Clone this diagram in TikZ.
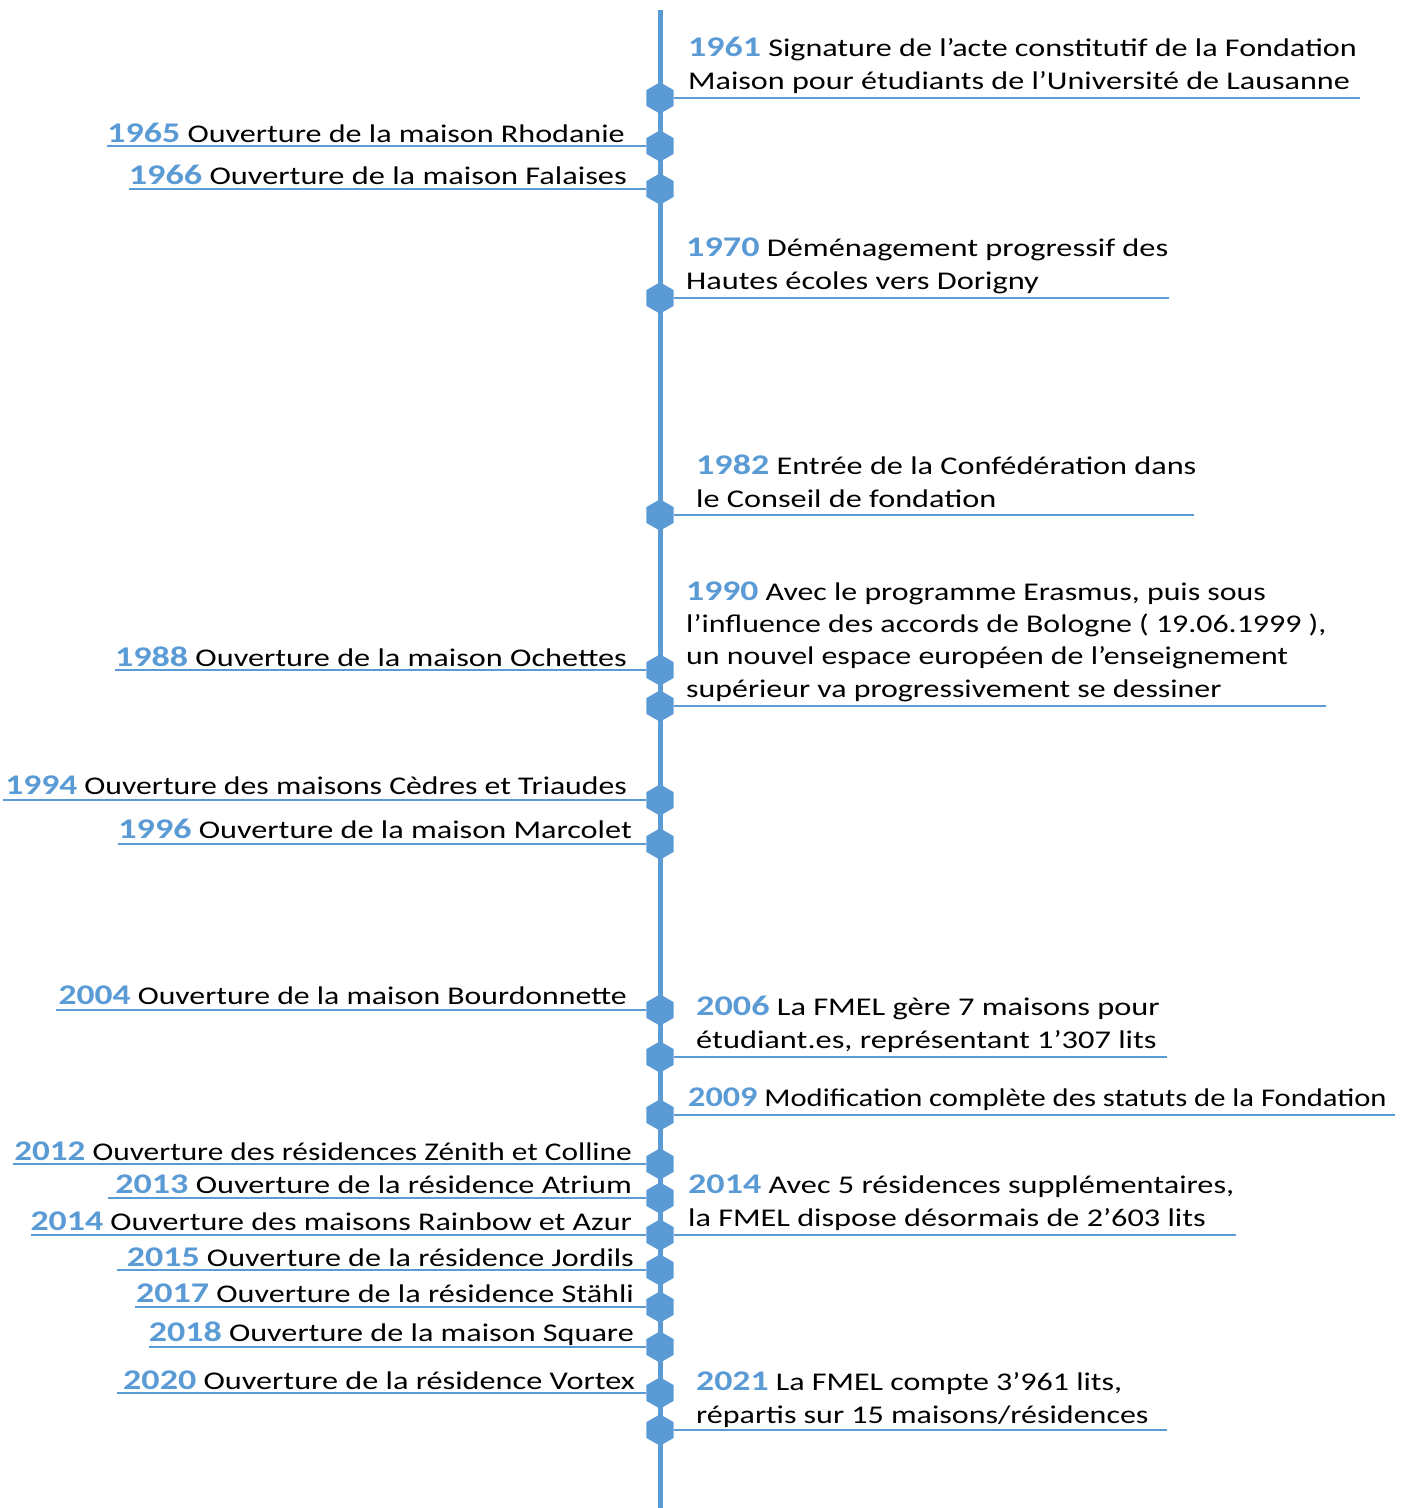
\documentclass[tikz,border=0pt]{standalone}
\usepackage{fontspec}
\setmainfont{Carlito}[FakeStretch=1.27]
\usetikzlibrary{shapes.geometric}
\definecolor{fblue}{HTML}{5B9BD5}
\newcommand\yr[1]{{\fontsize{28.5}{32.3}\selectfont\bfseries\color{fblue}#1}}
\begin{document}
\begin{tikzpicture}[x=1pt,y=-1pt,
 hex/.style={regular polygon, regular polygon sides=6, shape border rotate=30, fill=fblue, inner sep=0pt, minimum size=31.5pt},
 lbl/.style={inner sep=0pt, font={\fontspec{Carlito}[FakeStretch=#1]\fontsize{25.5}{32.3}\selectfont}, align=left},
 rulel/.style={draw=fblue, line width=1.3pt},
 spine/.style={draw=fblue, line width=5pt}]
\useasboundingbox (0,0) rectangle (1406,1508);
\coordinate (top) at (660,10);
\coordinate (bot) at (660,1508);
\draw[spine] (top) -- (bot);
% hexagons
\foreach \n/\y in {61/98,65/146,66/189,70/298,82/515,88/670,90/706,94/800,96/844,04/1010,06/1057,09/1115,12/1164,13/1198,14/1235,15/1270,17/1307,18/1347,20/1393,21/1430}
  \node[hex] (h\n) at (660,\y) {};
% right side
\node[lbl=1.26, anchor=base west] (r61) at (688,89) {\yr{1961} Signature de l’acte constitutif de la Fondation\\Maison pour étudiants de l’Université de Lausanne};
\node[lbl=1.27, anchor=base west] (r70) at (686,289) {\yr{1970} Déménagement progressif des\\Hautes écoles vers Dorigny};
\node[lbl=1.265, anchor=base west] (r82) at (696,507) {\yr{1982} Entrée de la Confédération dans\\le Conseil de fondation};
\node[lbl=1.25, anchor=base west] (r90) at (686,697) {\yr{1990} Avec le programme Erasmus, puis sous\\l’influence des accords de Bologne ( 19.06.1999 ),\\un nouvel espace européen de l’enseignement\\supérieur va progressivement se dessiner};
\node[lbl=1.27, anchor=base west] (r06) at (696,1048) {\yr{2006} La FMEL gère 7 maisons pour\\étudiant.es, représentant 1’307 lits};
\node[lbl=1.20, anchor=base west] (r09) at (688,1106) {\yr{2009} Modification complète des statuts de la Fondation};
\node[lbl=1.265, anchor=base west] (r14) at (688,1226) {\yr{2014} Avec 5 résidences supplémentaires,\\la FMEL dispose désormais de 2’603 lits};
\node[lbl=1.255, anchor=base west] (r21) at (696,1423) {\yr{2021} La FMEL compte 3’961 lits,\\répartis sur 15 maisons/résidences};
\foreach \n/\d in {61/3,70/1,82/-3,90/-1,06/7,09/8,14/2,21/18}
  \draw[rulel] (h\n) -- ([xshift=\d pt]r\n.east |- h\n);
% left side
\node[lbl=1.26, anchor=base east] (t65) at (625,142) {\yr{1965} Ouverture de la maison Rhodanie};
\node[lbl=1.27, anchor=base east] (t66) at (627,184) {\yr{1966} Ouverture de la maison Falaises};
\node[lbl=1.265, anchor=base east] (t88) at (627,666) {\yr{1988} Ouverture de la maison Ochettes};
\node[lbl=1.245, anchor=base east] (t94) at (627,794) {\yr{1994} Ouverture des maisons Cèdres et Triaudes};
\node[lbl=1.265, anchor=base east] (t96) at (632,838) {\yr{1996} Ouverture de la maison Marcolet};
\node[lbl=1.245, anchor=base east] (t04) at (627,1004) {\yr{2004} Ouverture de la maison Bourdonnette};
\node[lbl=1.23, anchor=base east] (t12) at (632,1160) {\yr{2012} Ouverture des résidences Zénith et Colline};
\node[lbl=1.265, anchor=base east] (t13) at (632,1193) {\yr{2013} Ouverture de la résidence Atrium};
\node[lbl=1.257, anchor=base east] (t14) at (632,1230) {\yr{2014} Ouverture des maisons Rainbow et Azur};
\node[lbl=1.26, anchor=base east] (t15) at (634,1266) {\yr{2015} Ouverture de la résidence Jordils};
\node[lbl=1.262, anchor=base east] (t17) at (634,1302) {\yr{2017} Ouverture de la résidence Stähli};
\node[lbl=1.262, anchor=base east] (t18) at (634,1341) {\yr{2018} Ouverture de la maison Square};
\node[lbl=1.265, anchor=base east] (t20) at (635,1389) {\yr{2020} Ouverture de la résidence Vortex};
\foreach \n/\d in {65/0,66/0,88/0,94/-2,96/0,04/-2,12/-1,13/-7,14/1,15/-10,17/-1,18/0,20/-6}
  \draw[rulel] (h\n) -- ([xshift=\d pt]t\n.west |- h\n);
\end{tikzpicture}
\end{document}
